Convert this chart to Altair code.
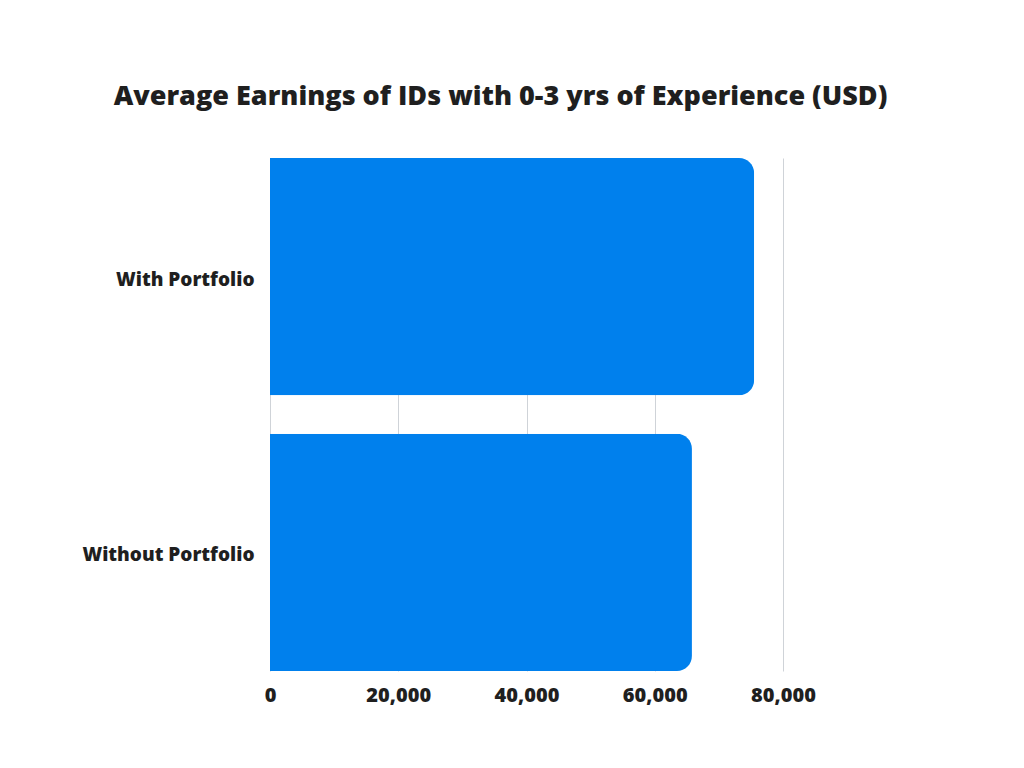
import altair as alt
import pandas as pd

groups = ["With Portfolio", "Without Portfolio"]
earnings = [75500, 65800]
x_ticks = [0, 20000, 40000, 60000, 80000]

df = pd.DataFrame({"group": groups, "earnings": earnings})

FONT = "Open Sans"
TEXT = "#1f1f1f"

chart = (
    alt.Chart(df, width=513, height=513)
    .mark_bar(color="#0080ED", cornerRadiusEnd=15)
    .encode(
        alt.X(
            "earnings:Q",
            scale=alt.Scale(domain=[0, 80000], nice=False),
            axis=alt.Axis(
                title=None,
                values=x_ticks,
                format=",d",
                ticks=False,
                domain=False,
                grid=True,
                gridColor="#cfd3d8",
                gridWidth=1,
                labelFont=FONT,
                labelFontSize=20,
                labelFontWeight=800,
                labelColor=TEXT,
                labelPadding=14,
                labelFlush=False,
            ),
        ),
        alt.Y(
            "group:N",
            sort=groups,
            scale=alt.Scale(paddingInner=0.14, paddingOuter=0),
            axis=alt.Axis(
                title=None,
                ticks=False,
                domain=False,
                labelFont=FONT,
                labelFontSize=19,
                labelFontWeight=800,
                labelColor=TEXT,
                labelPadding=16,
                labelOffset=3,
            ),
        ),
        tooltip=["group:N", "earnings:Q"],
    )
    .properties(
        title=alt.TitleParams(
            "Average Earnings of IDs with 0-3 yrs of Experience (USD)",
            font=FONT,
            fontSize=27,
            fontWeight=800,
            color=TEXT,
            offset=47,
            dx=-26,
        ),
        autosize=alt.AutoSizeParams(type="none"),
        padding={"left": 262, "top": 150, "right": 233, "bottom": 89},
    )
    .configure_view(stroke=None)
)

chart.save("out.html", embed_options={"renderer": "svg", "actions": False})
